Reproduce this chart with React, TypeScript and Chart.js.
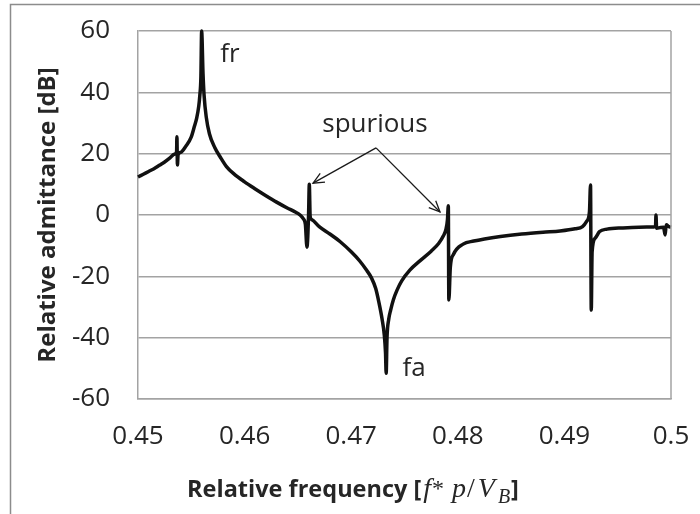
import React, { useEffect, useRef } from 'react';
import { Chart, registerables } from 'chart.js';

Chart.register(...registerables);

// ---- data ----
const freq = [
  0.4500, 0.4505, 0.4510, 0.4515, 0.4520, 0.4525, 0.4530, 0.4534, 0.45362, 0.45365,
  0.45370, 0.45376, 0.4540, 0.4545, 0.4550, 0.4553, 0.4555, 0.4557, 0.4558, 0.4559,
  0.45597, 0.4561, 0.4562, 0.4564, 0.4567, 0.4572, 0.4577, 0.4583, 0.4590, 0.4600,
  0.4610, 0.4620, 0.4630, 0.4640, 0.4648, 0.4652, 0.4655, 0.4657, 0.46585, 0.46600,
  0.46607, 0.46615, 0.4663, 0.4670, 0.4680, 0.4690, 0.4700, 0.4708, 0.4714, 0.4719,
  0.4723, 0.4726, 0.4729, 0.4731, 0.47322, 0.47328, 0.47336, 0.47352, 0.4737, 0.47395,
  0.4743, 0.47474, 0.4755, 0.4765, 0.4775, 0.4782, 0.47865, 0.4789, 0.47903, 0.47911,
  0.47916, 0.4793, 0.4796, 0.4805, 0.4815, 0.4825, 0.4840, 0.4860, 0.4880, 0.4896,
  0.4910, 0.4917, 0.4921, 0.49235, 0.49245, 0.49252, 0.4926, 0.4929, 0.4933, 0.4940,
  0.4955, 0.4970, 0.4984, 0.49855, 0.49859, 0.49865, 0.4990, 0.4993, 0.49945, 0.49955,
  0.4998, 0.5000,
];
const admittance = [
  12.4, 13.3, 14.2, 15.1, 16.2, 17.3, 18.6, 19.8, 20.6, 25.5,
  16.3, 19.6, 20.4, 22.5, 25.5, 29, 31.5, 35.5, 39, 45,
  60, 46, 39, 32, 26.5, 22, 19, 15.8, 13.4, 10.8,
  8.5, 6.3, 4.2, 2.3, 0.9, 0, -1.2, -3, -10.5, 0,
  10, -0.5, -1.5, -3.8, -6.2, -8.8, -12, -15, -17.8, -20.5,
  -24, -28.5, -34, -39, -45, -51.6, -40, -34, -31, -27.7,
  -24.5, -21.5, -18, -14.8, -11.8, -9.3, -6.8, -4.5, -1.5, 3,
  -27.7, -17, -12.8, -9.5, -8.5, -7.8, -7, -6.2, -5.6, -5.2,
  -4.5, -3.8, -2, 1, 9.8, -31, -12, -7.5, -5.4, -4.6,
  -4.2, -4, -3.9, -3.6, 0, -4.3, -4.1, -4, -6.5, -3.2,
  -3.8, -4,
];
const xTickLabels = ['0.45', '0.46', '0.47', '0.48', '0.49', '0.5'];
const yTickLabels = ['-60', '-40', '-20', '0', '20', '40', '60'];
const yTitle = 'Relative admittance [dB]';
const xTitleLead = 'Relative frequency [';
const peakLabels = [
  { text: 'fr', x: 0.45863, y: 52.2 },
  { text: 'fa', x: 0.47589, y: -50.2 },
];
const spuriousLabel = { text: 'spurious', x: 0.47223, y: 29.4 };
const arrowFrom = { x: 0.47233, y: 21.9 };
const arrowTargets = [
  { x: 0.46642, y: 10.4 },
  { x: 0.47833, y: 1.0 },
];

const GRID = '#a3a3a3';
const TEXT = '#262626';
const SANS = '"Open Sans", "Noto Sans", sans-serif';
const SERIF = '"Liberation Serif", "DejaVu Serif", serif';

const decor = {
  id: 'decor',
  afterDraw(chart: any) {
    const { ctx, chartArea: a, scales } = chart;
    const xs = scales.x;
    const ys = scales.y;
    ctx.save();

    // right border of plot
    ctx.strokeStyle = GRID;
    ctx.lineWidth = 1.5;
    ctx.beginPath();
    ctx.moveTo(a.right, a.top);
    ctx.lineTo(a.right, a.bottom);
    ctx.stroke();

    // outer frame (top and left edges)
    ctx.strokeStyle = '#8c8c8c';
    ctx.lineWidth = 1.5;
    ctx.beginPath();
    ctx.moveTo(10.5, 514);
    ctx.lineTo(10.5, 4.5);
    ctx.lineTo(700, 4.5);
    ctx.stroke();

    // annotations
    ctx.fillStyle = TEXT;
    ctx.textAlign = 'center';
    ctx.textBaseline = 'middle';
    ctx.font = `26px ${SANS}`;
    for (const l of peakLabels) {
      ctx.fillText(l.text, xs.getPixelForValue(l.x), ys.getPixelForValue(l.y));
    }
    ctx.fillText(spuriousLabel.text, xs.getPixelForValue(spuriousLabel.x), ys.getPixelForValue(spuriousLabel.y));

    // arrows
    ctx.strokeStyle = '#1a1a1a';
    ctx.lineWidth = 1.3;
    const ax = xs.getPixelForValue(arrowFrom.x);
    const ay = ys.getPixelForValue(arrowFrom.y);
    for (const t of arrowTargets) {
      const tx = xs.getPixelForValue(t.x);
      const ty = ys.getPixelForValue(t.y);
      ctx.beginPath();
      ctx.moveTo(ax, ay);
      ctx.lineTo(tx, ty);
      ctx.stroke();
      const ang = Math.atan2(ay - ty, ax - tx);
      const hl = 12;
      const spread = 0.42;
      ctx.beginPath();
      ctx.moveTo(tx + hl * Math.cos(ang + spread), ty + hl * Math.sin(ang + spread));
      ctx.lineTo(tx, ty);
      ctx.lineTo(tx + hl * Math.cos(ang - spread), ty + hl * Math.sin(ang - spread));
      ctx.stroke();
    }

    // y title
    ctx.save();
    ctx.translate(a.left - 90, (a.top + a.bottom) / 2);
    ctx.rotate(-Math.PI / 2);
    ctx.font = `bold 24px ${SANS}`;
    ctx.fillStyle = TEXT;
    ctx.textAlign = 'center';
    ctx.textBaseline = 'middle';
    ctx.fillText(yTitle, 0, 0);
    ctx.restore();

    // x title with math part
    const segs = [
      { t: xTitleLead, f: `bold 23.5px ${SANS}`, dy: 0, gap: 0 },
      { t: 'f', f: `italic 28px ${SERIF}`, dy: 0, gap: 2 },
      { t: '*', f: `24px ${SERIF}`, dy: -1, gap: 1 },
      { t: 'p', f: `italic 28px ${SERIF}`, dy: 0, gap: 8 },
      { t: '/', f: `28px ${SERIF}`, dy: 0, gap: 1 },
      { t: 'V', f: `italic 28px ${SERIF}`, dy: 0, gap: 3 },
      { t: 'B', f: `italic 20px ${SERIF}`, dy: 6, gap: 3 },
      { t: ']', f: `bold 23.5px ${SANS}`, dy: 0, gap: 1 },
    ];
    let total = 0;
    const widths: number[] = [];
    for (const s of segs) {
      ctx.font = s.f;
      const w = ctx.measureText(s.t).width;
      widths.push(w);
      total += w + s.gap;
    }
    let cx = 353 - total / 2;
    const base = 497;
    ctx.textAlign = 'left';
    ctx.textBaseline = 'alphabetic';
    segs.forEach((s, i) => {
      cx += s.gap;
      ctx.font = s.f;
      ctx.fillText(s.t, cx, base + s.dy);
      cx += widths[i];
    });

    ctx.restore();
  },
};

export default function App() {
  const ref = useRef<HTMLCanvasElement>(null);

  useEffect(() => {
    if (!ref.current) return;
    const points = freq.map((f, i) => ({ x: f, y: admittance[i] }));
    const chart = new Chart(ref.current, {
      type: 'line',
      data: {
        datasets: [
          {
            data: points,
            borderColor: '#111111',
            borderWidth: 3.5,
            pointRadius: 0,
            cubicInterpolationMode: 'monotone',
            fill: false,
            clip: 6,
          } as any,
        ],
      },
      options: {
        animation: false,
        responsive: true,
        maintainAspectRatio: false,
        layout: { padding: { top: 31, right: 29, left: 0, bottom: 0 } },
        plugins: {
          legend: { display: false },
          tooltip: { enabled: false },
          title: { display: false },
        },
        scales: {
          x: {
            type: 'linear',
            min: 0.45,
            max: 0.5,
            grid: { display: false, drawTicks: false },
            border: { display: true, color: GRID, width: 1.5 },
            ticks: {
              stepSize: 0.01,
              autoSkip: false,
              maxRotation: 0,
              padding: 22,
              color: TEXT,
              font: { family: SANS, size: 26 },
              callback: (v: any, i: number) => xTickLabels[i] ?? String(v),
            },
            afterFit: (s: any) => {
              s.height = 115;
              s.paddingLeft = 0;
              s.paddingRight = 0;
            },
          },
          y: {
            type: 'linear',
            min: -60,
            max: 60,
            grid: { color: GRID, lineWidth: 1.5, drawTicks: false },
            border: { display: true, color: GRID, width: 1.5 },
            ticks: {
              stepSize: 20,
              padding: 28,
              color: TEXT,
              font: { family: SANS, size: 26 },
              callback: (v: any, i: number) => yTickLabels[i] ?? String(v),
            },
            afterFit: (s: any) => {
              s.width = 138;
              s.paddingTop = 0;
              s.paddingBottom = 0;
            },
          },
        },
      },
      plugins: [decor],
    });
    return () => chart.destroy();
  }, []);

  return (
    <div style={{ position: 'fixed', left: 0, top: 0, width: 700, height: 514, background: '#ffffff' }}>
      <canvas ref={ref} />
    </div>
  );
}
